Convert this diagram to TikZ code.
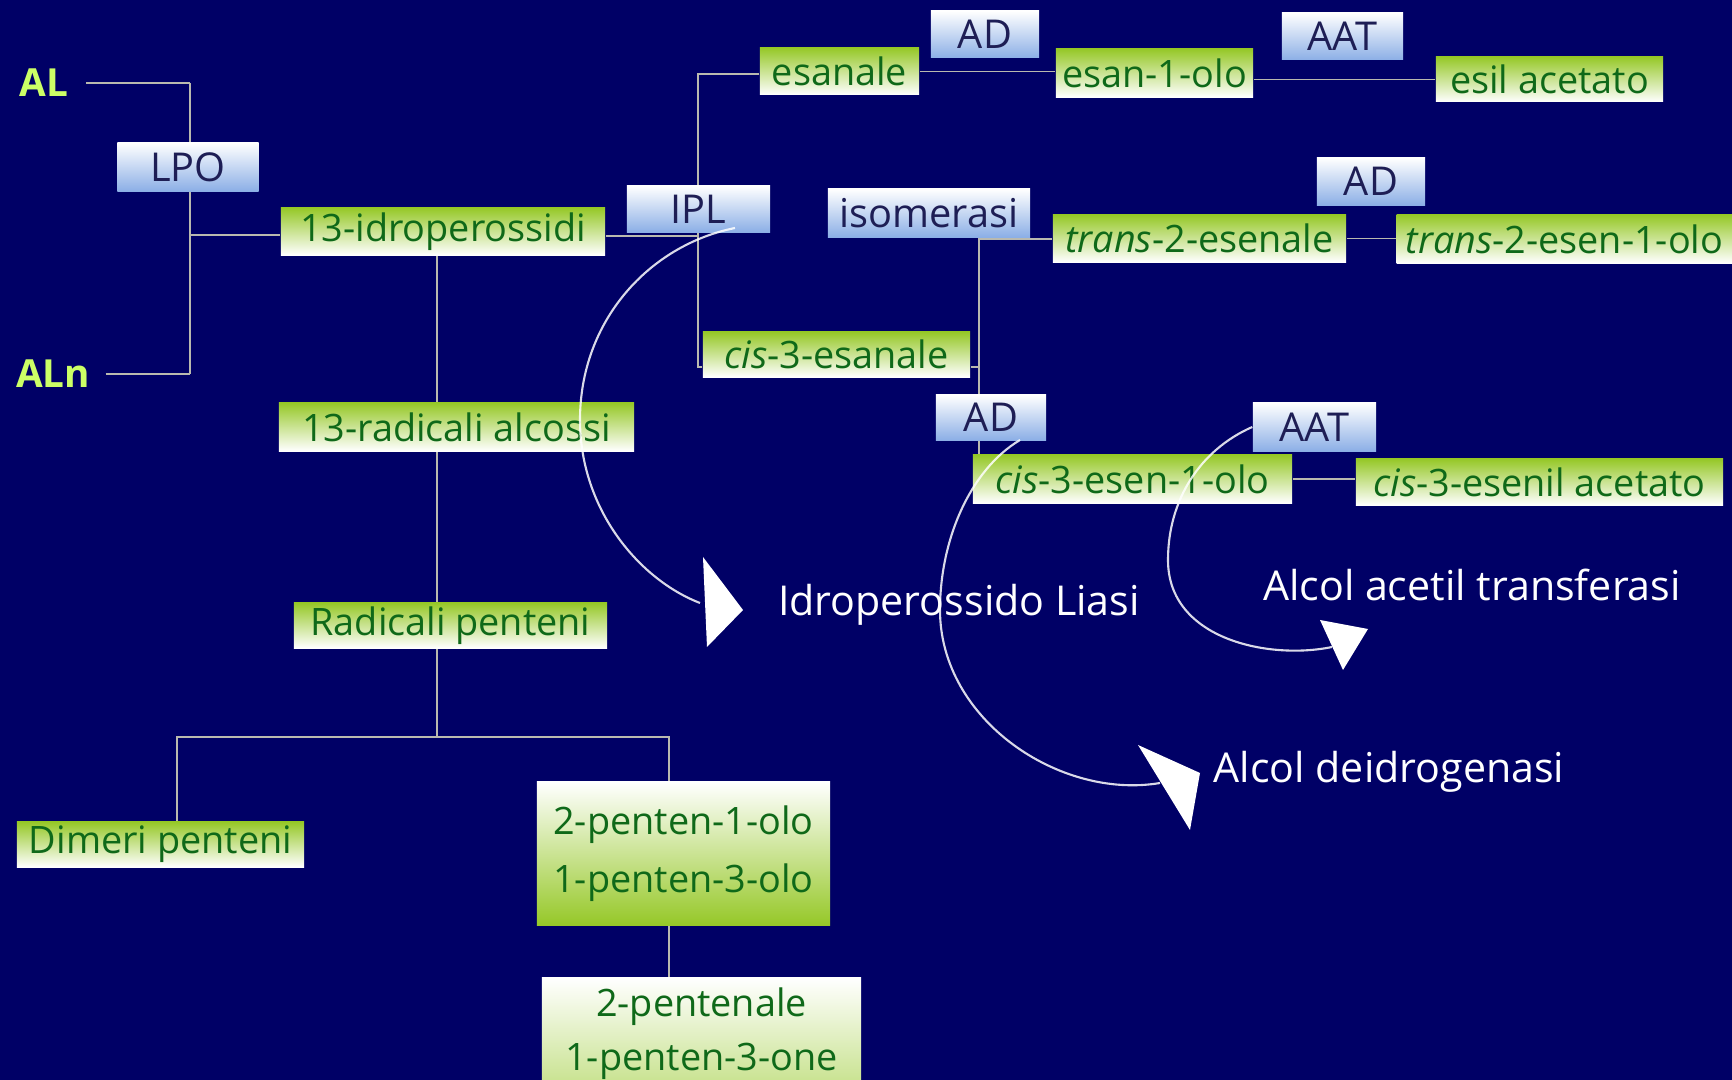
\documentclass[tikz,border=0pt]{standalone}
\usepackage{fontspec}
\setmainfont{Open Sans}
\definecolor{bgnavy}{RGB}{0,0,102}
\definecolor{boxgreen}{RGB}{150,200,40}
\definecolor{txtgreen}{RGB}{15,105,25}
\definecolor{enzblue}{RGB}{140,175,230}
\definecolor{enztxt}{RGB}{30,30,85}
\definecolor{lbllime}{RGB}{204,255,102}
\definecolor{connc}{RGB}{185,185,175}
\pgfdeclarelayer{bglayer}
\pgfdeclarelayer{linelayer}
\pgfsetlayers{bglayer,linelayer,main}
\begin{document}
\begin{tikzpicture}[x=0.01cm,y=-0.01cm,
  gbox/.style={draw=none, inner sep=0pt, top color=boxgreen, bottom color=white, text=txtgreen, font=\fontsize{10.75}{13}\selectfont},
  rbox/.style={gbox, top color=white, bottom color=boxgreen},
  ebox/.style={inner sep=0pt, top color=white, bottom color=enzblue, text=enztxt, font=\fontsize{11.3}{13}\selectfont},
  srclbl/.style={text=lbllime, font=\fontsize{11}{13}\selectfont\bfseries, inner sep=0pt},
  wlbl/.style={text=white, font=\fontsize{11.7}{14}\selectfont, inner sep=0pt},
  conn/.style={draw=connc, line width=0.55pt},
  arcline/.style={draw=white, line width=0.6pt, opacity=0.85},
  headfill/.style={fill=white}]
\useasboundingbox (0,0) rectangle (1732,1080);
\begin{pgfonlayer}{bglayer}
\fill[bgnavy] (0,0) rectangle (1732,1080);
\end{pgfonlayer}
\clip (0,0) rectangle (1732,1080);

% source labels
\node[srclbl] (al) at (44,83) {AL};
\node[srclbl] (aln) at (53,374) {ALn};

% enzyme boxes
\node[ebox, minimum width=1.41cm, minimum height=0.48cm] (lpo) at (188,167) {LPO};
\node[ebox, minimum width=1.43cm, minimum height=0.46cm] (ipl) at (698.5,209) {IPL};
\node[ebox, minimum width=1.08cm, minimum height=0.47cm] (adt) at (985,34.5) {AD};
\node[ebox, minimum width=1.21cm, minimum height=0.47cm] (aatt) at (1342.5,36.5) {AAT};
\node[ebox, minimum width=2.02cm, minimum height=0.48cm] (isom) at (929,213) {isomerasi};
\node[ebox, minimum width=1.08cm, minimum height=0.47cm] (adm) at (1371,181.5) {AD};
\node[ebox, minimum width=1.10cm, minimum height=0.45cm] (adl) at (991,417.5) {AD};
\node[ebox, minimum width=1.23cm, minimum height=0.48cm] (aatl) at (1314.5,427) {AAT};

% compound boxes
\node[gbox, minimum width=3.24cm, minimum height=0.47cm] (idro) at (443,231.5) {13-idroperossidi};
\node[gbox, minimum width=1.59cm, minimum height=0.47cm] (esanale) at (839.5,71.5) {esanale};
\node[gbox, minimum width=1.97cm, minimum height=0.48cm] (esanolo) at (1154.5,73) {esan-1-olo};
\node[gbox, minimum width=2.27cm, minimum height=0.45cm] (esil) at (1549.5,79.5) {esil acetato};
\node[gbox, minimum width=2.93cm, minimum height=0.47cm] (trans2esenale) at (1199.5,238.5) {\textit{trans}-2-esenale};
\node[gbox, anchor=west, text width=3.46cm, align=left, inner xsep=0.09cm, minimum height=0.48cm] (trans2esenolo) at (1396,239) {\textit{trans}-2-esen-1-olo};
\node[gbox, minimum width=2.67cm, minimum height=0.45cm] (cis3esanale) at (836.5,354.5) {\textit{cis}-3-esanale};
\node[gbox, minimum width=3.19cm, minimum height=0.48cm] (cis3esenolo) at (1132.5,479) {\textit{cis}-3-esen-1-olo};
\node[gbox, minimum width=3.67cm, minimum height=0.46cm] (cis3esenil) at (1539.5,482) {\textit{cis}-3-esenil acetato};
\node[gbox, minimum width=3.55cm, minimum height=0.48cm] (radalc) at (456.5,427) {13-radicali alcossi};
\node[gbox, minimum width=3.13cm, minimum height=0.45cm] (radpent) at (450.5,625.5) {Radicali penteni};
\node[gbox, minimum width=2.87cm, minimum height=0.45cm] (dimeri) at (160.5,844.5) {Dimeri penteni};
\node[rbox, minimum width=2.93cm, minimum height=1.43cm, align=left] (pentenolo) at (683.5,853.5) {2-penten-1-olo\\[3.5pt]1-penten-3-olo};
\node[rbox, bottom color=boxgreen!55!white, minimum width=3.19cm, minimum height=1.12cm, align=center] (pentenale) at (701.5,1034) {2-pentenale\\[2.4pt]1-penten-3-one};

% white labels
\node[wlbl] (lbl1) at (959,605) {Idroperossido Liasi};
\node[wlbl] (lbl2) at (1472,585) {Alcol acetil transferasi};
\node[wlbl] (lbl3) at (1389,772) {Alcol deidrogenasi};

% junction coordinates
\coordinate (jl) at (190,235);
\coordinate (jv) at (698,236);
\coordinate (vt) at (698,74);
\coordinate (vb) at (698,367);
\coordinate (it) at (979,239);
\coordinate (hb) at (437,737);
\coordinate (hl) at (177,737);
\coordinate (hr) at (669,737);

\begin{pgfonlayer}{linelayer}
\draw[conn, shorten <=0.17cm] (al.east) -- (al.east -| jl);
\draw[conn, shorten <=0.15cm] (aln.east) -- (aln.east -| jl);
\draw[conn] (al.east -| jl) -- (aln.east -| jl);
\draw[conn] (jl) -- (jl -| idro.west);
\draw[conn] (idro.east |- jv) -- (jv);
\draw[conn] (esanale.west |- vt) -- (vt) -- (vb) -- (cis3esanale.west |- vb);
\draw[conn] (esanale.east) -- (esanale.east -| esanolo.west);
\draw[conn] (esanolo.east |- esil.west) -- (esil.west);
\draw[conn] (trans2esenale.west |- it) -- (it) -- (cis3esenolo.north -| it);
\draw[conn] (cis3esanale.east |- vb) -- (vb -| it);
\draw[conn] (trans2esenale.east) -- (trans2esenale.east -| trans2esenolo.west);
\draw[conn] (cis3esenolo.east) -- (cis3esenolo.east -| cis3esenil.west);
\draw[conn] (idro.south -| hb) -- (hb);
\draw[conn] (dimeri.north -| hl) -- (hl) -- (hr) -- (pentenolo.north -| hr);
\draw[conn] (pentenolo.south -| hr) -- (pentenale.north -| hr);
\end{pgfonlayer}

% curved arrows
\coordinate (a1s) at (735,228);
\coordinate (a1m) at (580,420);
\coordinate (a1e) at (700,603);
\draw[arcline] (a1s) .. controls (650,245) and (580,320) .. (a1m) .. controls (580,510) and (640,580) .. (a1e);
\fill[headfill] (703,557) -- (743,610) -- (707,647) -- cycle;

\coordinate (a2s) at (1020,440);
\coordinate (a2m) at (940,610);
\coordinate (a2e) at (1160,783);
\draw[arcline] (a2s) .. controls (970,470) and (940,540) .. (a2m) .. controls (940,720) and (1060,800) .. (a2e);
\fill[headfill] (1138,745) -- (1200,773) -- (1190,830) -- cycle;

\coordinate (a3m) at (1168,560);
\coordinate (a3e) at (1332,647);
\draw[arcline] (aatl.west) .. controls (1200,450) and (1168,500) .. (a3m) .. controls (1168,640) and (1270,660) .. (a3e);
\fill[headfill] (1320,620) -- (1368,629) -- (1343,670) -- cycle;
\end{tikzpicture}
\end{document}
